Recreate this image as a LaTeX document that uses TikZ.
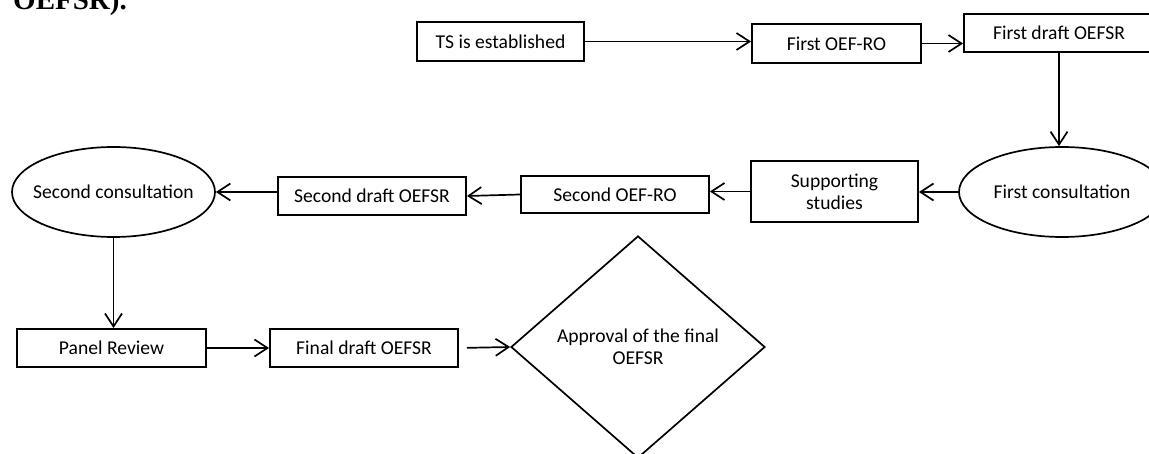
\documentclass[tikz,border=0pt]{standalone}
\usepackage{fontspec}
\setmainfont{Carlito}
\newfontfamily\capfont{Liberation Serif}
\usetikzlibrary{shapes.geometric,arrows.meta}
\begin{document}
\begin{tikzpicture}[x=1pt,y=-1pt,
  every node/.style={font=\fontsize{19.6}{22}\selectfont, inner sep=0pt},
  boxnode/.style={draw, line width=1.9pt, rectangle, align=center},
  ovalnode/.style={draw, line width=1.7pt, ellipse},
  decnode/.style={draw, line width=1.7pt, diamond, align=center},
  conn/.style={line width=1.7pt, -{Straight Barb[length=13pt,width=17pt,line width=1.7pt]}}
]
\useasboundingbox (0,0) rectangle (1149,454);
% partial caption text at the top edge
\node[anchor=base west, font=\capfont\bfseries\fontsize{29}{32}\selectfont] (cap) at (13,10) {OEFSR).};
% top row
\node[boxnode, minimum width=167, minimum height=39] (ts) at (500.5,41.5) {TS is established};
\node[boxnode, minimum width=169, minimum height=39] (for1) at (836.5,43.5) {First OEF-RO};
\node[boxnode, minimum width=190, minimum height=38] (fd1) at (1059,33) {First draft OEFSR};
% middle row
\node[ovalnode, minimum width=206, minimum height=90] (fc) at (1062,192) {\makebox[0pt]{First consultation}};
\node[boxnode, minimum width=167, minimum height=61] (ss) at (834.5,191.5) {Supporting\\studies};
\node[boxnode, minimum width=188, minimum height=37] (sor) at (615,194.5) {Second OEF-RO};
\node[boxnode, minimum width=188, minimum height=38] (sd) at (372,196) {Second draft OEFSR};
\node[ovalnode, minimum width=203, minimum height=90] (sc) at (113.5,192) {\makebox[0pt]{Second consultation}};
% bottom row
\node[boxnode, minimum width=189, minimum height=38] (pr) at (111.5,348) {Panel Review};
\node[boxnode, minimum width=188, minimum height=38] (fd) at (364,348) {Final draft OEFSR};
\node[decnode, minimum width=254, minimum height=222] (ap) at (638,347) {Approval of the final\\OEFSR};
% connectors
\draw[conn] (ts.east) -- (ts.east -| for1.west);
\draw[conn] (for1.east) -- (for1.east -| fd1.west);
\draw[conn] (fd1.south) -- (fd1.south |- fc.north);
\draw[conn] (fc.west) -- (fc.west -| ss.east);
\draw[conn] (ss.west) -- (ss.west -| sor.east);
\draw[conn] (sor.west) -- (sd.east);
\draw[conn] (sd.west |- sc.east) -- (sc.east);
\draw[conn] (sc.south) -- (sc.south |- pr.north);
\draw[conn] (pr.east) -- (fd.west);
\draw[conn, shorten <=8pt] (fd.east) -- (ap.west);
\end{tikzpicture}
\end{document}
